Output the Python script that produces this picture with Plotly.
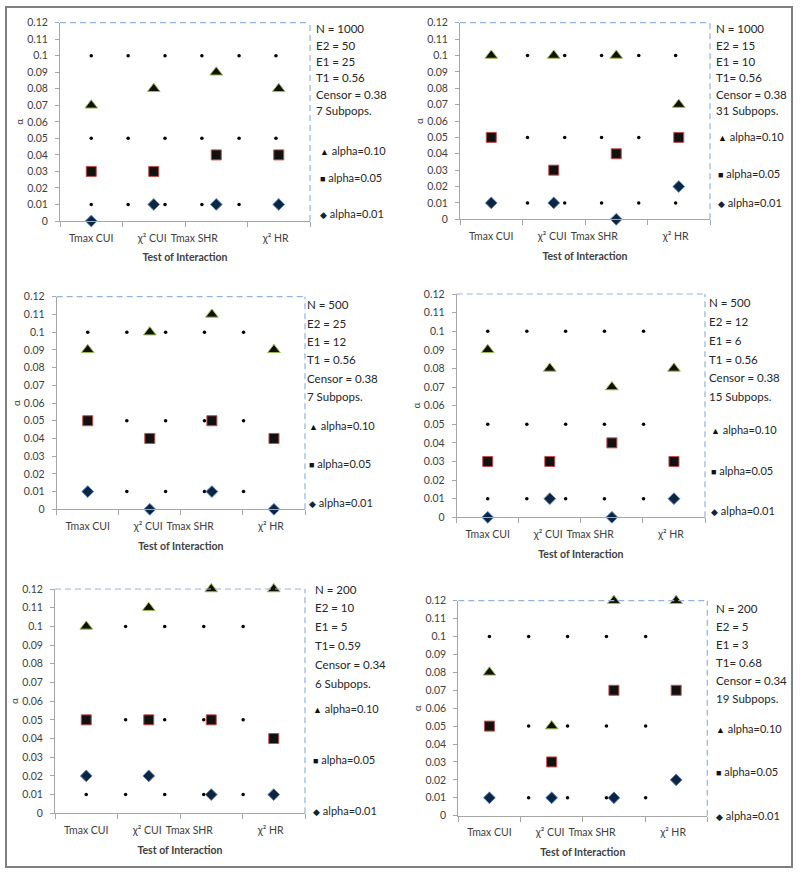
import plotly.graph_objects as go

# ---------------- data ----------------
categories = ["Tmax CUI", "χ² CUI", "Tmax SHR", "χ² HR"]
cat_x = [1, 3, 5, 7]
cat_label_x = [1, 2.95, 4.3, 6.9]
x_tick_marks = [0, 2, 4, 6, 8]

y_tick_vals = [0, 0.01, 0.02, 0.03, 0.04, 0.05, 0.06, 0.07, 0.08, 0.09, 0.1, 0.11, 0.12]
y_tick_text = ["0", "0.01", "0.02", "0.03", "0.04", "0.05", "0.06", "0.07", "0.08", "0.09", "0.1", "0.11", "0.12"]

series_names = ["alpha=0.10", "alpha=0.05", "alpha=0.01"]

p1_alpha10 = [0.07, 0.08, 0.09, 0.08]
p1_alpha05 = [0.03, 0.03, 0.04, 0.04]
p1_alpha01 = [0.00, 0.01, 0.01, 0.01]

p2_alpha10 = [0.10, 0.10, 0.10, 0.07]
p2_alpha05 = [0.05, 0.03, 0.04, 0.05]
p2_alpha01 = [0.01, 0.01, 0.00, 0.02]

p3_alpha10 = [0.09, 0.10, 0.11, 0.09]
p3_alpha05 = [0.05, 0.04, 0.05, 0.04]
p3_alpha01 = [0.01, 0.00, 0.01, 0.00]

p4_alpha10 = [0.09, 0.08, 0.07, 0.08]
p4_alpha05 = [0.03, 0.03, 0.04, 0.03]
p4_alpha01 = [0.00, 0.01, 0.00, 0.01]

p5_alpha10 = [0.10, 0.11, 0.12, 0.12]
p5_alpha05 = [0.05, 0.05, 0.05, 0.04]
p5_alpha01 = [0.02, 0.02, 0.01, 0.01]

p6_alpha10 = [0.08, 0.05, 0.12, 0.12]
p6_alpha05 = [0.05, 0.03, 0.07, 0.07]
p6_alpha01 = [0.01, 0.01, 0.01, 0.02]

ref_levels = [0.1, 0.05, 0.01]
p1_ref_x = [1, 2.18, 3.36, 4.54, 5.73, 6.91]
p2_ref_x = [1, 2.16, 3.35, 4.53, 5.72, 6.9]
p3_ref_x = [1, 2.26, 3.51, 4.76, 6.02]
p4_ref_x = [1, 2.26, 3.51, 4.76, 6.02]
p5_ref_x = [1, 2.26, 3.51, 4.76, 6.02]
p6_ref_x = [1, 2.26, 3.51, 4.76, 6.02]

p1_info = ["N = 1000", "E2 = 50", "E1 = 25", "T1 = 0.56", "Censor = 0.38", "7 Subpops."]
p2_info = ["N = 1000", "E2 = 15", "E1 = 10", "T1= 0.56", "Censor = 0.38", "31 Subpops."]
p3_info = ["N = 500", "E2 = 25", "E1 = 12", "T1 = 0.56", "Censor = 0.38", "7 Subpops."]
p4_info = ["N = 500", "E2 = 12", "E1 = 6", "T1 = 0.56", "Censor = 0.38", "15 Subpops."]
p5_info = ["N = 200", "E2 = 10", "E1 = 5", "T1= 0.59", "Censor = 0.34", "6 Subpops."]
p6_info = ["N = 200", "E2 = 5", "E1 = 3", "T1= 0.68", "Censor = 0.34", "19 Subpops."]

x_title = "Test of Interaction"
y_title = "α"

# ---------------- layout (pixel positions) ----------------
W, H = 800, 875
FONT = "Lato, 'Liberation Sans', Arial, sans-serif"

panels = [
    dict(a10=p1_alpha10, a05=p1_alpha05, a01=p1_alpha01, ref=p1_ref_x, info=p1_info,
         box=(60, 310, 22.7, 221), info_x=314, info_y0=29, info_dy=16.3,
         leg_x=318, leg_y=(150, 178, 213)),
    dict(a10=p2_alpha10, a05=p2_alpha05, a01=p2_alpha01, ref=p2_ref_x, info=p2_info,
         box=(460, 710, 22.7, 219.3), info_x=714, info_y0=29, info_dy=16.3,
         leg_x=716, leg_y=(136.7, 173.3, 202.7)),
    dict(a10=p3_alpha10, a05=p3_alpha05, a01=p3_alpha01, ref=p3_ref_x, info=p3_info,
         box=(56.7, 305, 296.7, 509.3), info_x=305, info_y0=305, info_dy=18.3,
         leg_x=307, leg_y=(425.7, 464, 502.3)),
    dict(a10=p4_alpha10, a05=p4_alpha05, a01=p4_alpha01, ref=p4_ref_x, info=p4_info,
         box=(456.7, 705, 294, 517.3), info_x=707, info_y0=302.3, info_dy=18.9,
         leg_x=709, leg_y=(429.3, 470, 510.7)),
    dict(a10=p5_alpha10, a05=p5_alpha05, a01=p5_alpha01, ref=p5_ref_x, info=p5_info,
         box=(55, 305, 589, 813.3), info_x=313, info_y0=589, info_dy=18.9,
         leg_x=311, leg_y=(708.3, 759.3, 810)),
    dict(a10=p6_alpha10, a05=p6_alpha05, a01=p6_alpha01, ref=p6_ref_x, info=p6_info,
         box=(458.3, 707.3, 600.7, 815.7), info_x=714, info_y0=608.3, info_dy=18.1,
         leg_x=714, leg_y=(728.3, 771, 815)),
]

marker_styles = [
    dict(symbol="triangle-up", size=11, color="#111100", line=dict(color="#9BBB59", width=1)),
    dict(symbol="square", size=10, color="#111111", line=dict(color="#C0504D", width=1)),
    dict(symbol="diamond", size=9, color="#0F243E", line=dict(color="#4F81BD", width=1)),
]
legend_glyphs = ["▲", "■", "◆"]
legend_glyph_colors = ["#111100", "#111111", "#0F243E"]

AXIS_COLOR = "#A6A6A6"
TEXT_COLOR = "#404040"
DASH_COLOR = "#95B3D7"

fig = go.Figure()
annotations = []
shapes = []

for i, p in enumerate(panels, start=1):
    xa = "x" if i == 1 else f"x{i}"
    ya = "y" if i == 1 else f"y{i}"
    x0, x1, ytop, ybot = p["box"]

    # reference dots
    rx, ry = [], []
    for lvl in ref_levels:
        rx += p["ref"]
        ry += [lvl] * len(p["ref"])
    fig.add_trace(go.Scatter(x=rx, y=ry, mode="markers", xaxis=xa, yaxis=ya,
                             marker=dict(symbol="circle", size=3.5, color="#000000"),
                             showlegend=False, hoverinfo="skip", cliponaxis=False))

    for name, vals, ms in zip(series_names, [p["a10"], p["a05"], p["a01"]], marker_styles):
        fig.add_trace(go.Scatter(x=cat_x, y=vals, mode="markers", name=name,
                                 xaxis=xa, yaxis=ya, marker=ms, showlegend=False,
                                 cliponaxis=False))

    sfx = "" if i == 1 else str(i)
    fig.layout["xaxis" + sfx] = dict(
        domain=[x0 / W, x1 / W], anchor=ya, range=[0, 8],
        showline=True, linecolor=AXIS_COLOR, linewidth=1,
        showgrid=False, zeroline=False,
        tickmode="array", tickvals=cat_label_x, ticktext=categories,
        ticks="outside", ticklen=7, tickcolor="rgba(0,0,0,0)",
        tickfont=dict(family=FONT, size=10.5, color=TEXT_COLOR),
        minor=dict(tickmode="array", tickvals=x_tick_marks, ticks="outside",
                   ticklen=5, tickcolor=AXIS_COLOR, showgrid=False),
        title=dict(text="<b>" + x_title + "</b>", standoff=11,
                   font=dict(family=FONT, size=10.5, color=TEXT_COLOR)),
        fixedrange=True, automargin=False,
    )
    fig.layout["yaxis" + sfx] = dict(
        domain=[1 - ybot / H, 1 - ytop / H], anchor=xa, range=[0, 0.12],
        showline=True, linecolor=AXIS_COLOR, linewidth=1,
        showgrid=False, zeroline=False,
        tickmode="array", tickvals=y_tick_vals, ticktext=y_tick_text,
        ticks="outside", ticklen=4, tickcolor=AXIS_COLOR,
        ticklabelstandoff=5,
        tickfont=dict(family=FONT, size=10.5, color=TEXT_COLOR),
        title=dict(text=y_title, standoff=1,
                   font=dict(family=FONT, size=10, color=TEXT_COLOR)),
        fixedrange=True, automargin=False,
    )

    # dashed top & right border of plot area
    shapes.append(dict(type="line", xref=xa + " domain", yref=ya + " domain",
                       x0=0, x1=1, y0=1, y1=1,
                       line=dict(color=DASH_COLOR, width=1.2, dash="6px,4px")))
    shapes.append(dict(type="line", xref=xa + " domain", yref=ya + " domain",
                       x0=1, x1=1, y0=0, y1=1,
                       line=dict(color=DASH_COLOR, width=1.2, dash="6px,4px")))

    # info text block
    for k, line in enumerate(p["info"]):
        annotations.append(dict(
            xref="paper", yref="paper", x=p["info_x"] / W,
            y=1 - (p["info_y0"] + k * p["info_dy"]) / H,
            xanchor="left", yanchor="middle", showarrow=False, text=line,
            font=dict(family=FONT, size=11.5, color="#262626")))

    # legend entries
    for k, name in enumerate(series_names):
        annotations.append(dict(
            xref="paper", yref="paper", x=p["leg_x"] / W, y=1 - p["leg_y"][k] / H,
            xanchor="left", yanchor="middle", showarrow=False,
            text=f"<span style='color:{legend_glyph_colors[k]};font-size:9px'>{legend_glyphs[k]}</span> {name}",
            font=dict(family=FONT, size=11, color="#262626")))

# outer frame
shapes.append(dict(type="rect", xref="paper", yref="paper",
                   x0=6 / W, x1=792 / W, y0=1 - 867 / H, y1=1 - 7 / H,
                   line=dict(color="#7F7F7F", width=2)))

fig.update_layout(
    width=W, height=H, margin=dict(l=0, r=0, t=0, b=0, autoexpand=False),
    paper_bgcolor="white", plot_bgcolor="white",
    showlegend=False, annotations=annotations, shapes=shapes,
    font=dict(family=FONT, color=TEXT_COLOR),
)

fig.write_html("out.html", config={"displayModeBar": False},
               post_script="document.body.style.margin='0';")
